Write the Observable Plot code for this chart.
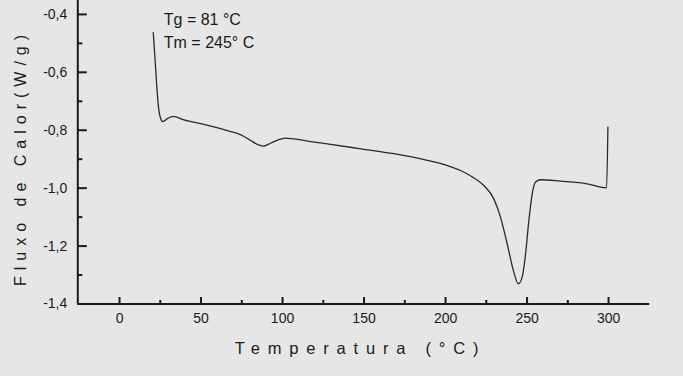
<!DOCTYPE html>
<html>
<head>
<meta charset="utf-8">
<script src="https://cdn.jsdelivr.net/npm/d3@7"></script>
<script src="https://cdn.jsdelivr.net/npm/@observablehq/plot@0.6"></script>
<style>
  html, body { margin: 0; padding: 0; background: #e6e6e6; }
  #chart { width: 683px; height: 376px; overflow: hidden; }
</style>
</head>
<body>
<div id="chart"></div>
<script>
// ---- data ----
const temperature = [20.7, 22.1, 23.5, 24.7, 26.6, 29.3, 32.9, 39.5, 51.7, 66.1, 74.2, 80.4, 84.5, 88.1, 92.6, 97.0, 101.8, 106.9, 117.2, 127.4, 147.9, 168.3, 188.8, 200.0, 209.2, 216.0, 223.5, 229.6, 233.7, 237.8, 241.9, 244.6, 247.0, 249.1, 251.1, 253.2, 255.2, 258.3, 270.6, 286.9, 298.8, 299.6];
const heatFlow    = [-0.463, -0.582, -0.697, -0.749, -0.770, -0.760, -0.752, -0.764, -0.780, -0.801, -0.815, -0.835, -0.849, -0.855, -0.845, -0.834, -0.827, -0.830, -0.839, -0.847, -0.864, -0.881, -0.904, -0.920, -0.939, -0.960, -0.991, -1.037, -1.100, -1.192, -1.290, -1.330, -1.307, -1.227, -1.112, -1.019, -0.979, -0.971, -0.976, -0.985, -0.999, -0.789];

const xTicks = [0, 50, 100, 150, 200, 250, 300];
const xMinorTicks = [25, 75, 125, 175, 225, 275];
const yTicks = [-1.4, -1.2, -1.0, -0.8, -0.6, -0.4];
const yMinorTicks = [-1.3, -1.1, -0.9, -0.7, -0.5];
const xDomain = [-25.6, 325.3];
const yDomain = [-1.4, -0.352];

const annotations = ["Tg = 81 °C", "Tm = 245° C"];
const xTitle = "Temperatura (°C)";
const yTitle = "Fluxo de Calor(W/g)";

const curve = temperature.map((t, i) => ({t, v: heatFlow[i]}));

// ---- layout ----
const W = 683, H = 376;
const mL = 77.3, mR = 33.7, mT = 0, mB = 72.5;
const innerW = W - mL - mR, innerH = H - mT - mB;
const ink = "#1a1a1a";
const fmt = d => d.toFixed(1).replace(".", ",");

const chart = Plot.plot({
  width: W,
  height: H,
  marginLeft: mL,
  marginRight: mR,
  marginTop: mT,
  marginBottom: mB,
  style: {background: "#e6e6e6", color: ink, fontFamily: "'Liberation Sans', Arial, sans-serif", fontSize: "14px", overflow: "visible"},
  x: {domain: xDomain},
  y: {domain: yDomain},
  marks: [
    // tick labels
    Plot.axisX({ticks: xTicks, tickSize: 0, tickPadding: 9, fontSize: 14, label: null, tickFormat: d => String(d)}),
    Plot.axisY({ticks: yTicks, tickSize: 0, tickPadding: 10.5, fontSize: 14, label: null, tickFormat: fmt}),
    // inward ticks
    Plot.ruleX(xTicks, {x: d => d, insetTop: innerH - 6.5, stroke: ink, strokeWidth: 2}),
    Plot.ruleX(xMinorTicks, {x: d => d, insetTop: innerH - 3.5, stroke: ink, strokeWidth: 2}),
    Plot.ruleY(yTicks, {y: d => d, insetRight: innerW - 9.5, stroke: ink, strokeWidth: 2}),
    Plot.ruleY(yMinorTicks, {y: d => d, insetRight: innerW - 5, stroke: ink, strokeWidth: 2}),
    // axis lines
    Plot.ruleY([yDomain[0]], {stroke: ink, strokeWidth: 2}),
    Plot.ruleX([xDomain[0]], {stroke: ink, strokeWidth: 2}),
    // curve
    Plot.line(curve, {x: "t", y: "v", curve: "monotone-x", stroke: "#2a2a2a", strokeWidth: 1.3}),
    // annotations
    Plot.text([annotations[0]], {frameAnchor: "top-left", dx: 86, dy: 19, textAnchor: "start", lineAnchor: "middle", fontSize: 16, fill: ink}),
    Plot.text([annotations[1]], {frameAnchor: "top-left", dx: 86, dy: 42.7, textAnchor: "start", lineAnchor: "middle", fontSize: 16, fill: ink}),
    // axis titles
    Plot.text([xTitle], {frameAnchor: "bottom", dx: -3.3, dy: 44.5, textAnchor: "middle", lineAnchor: "middle", fontSize: 16.5, fill: ink}),
    Plot.text([yTitle], {frameAnchor: "left", dx: 20 - mL, dy: 157 - innerH / 2, rotate: -90, textAnchor: "middle", lineAnchor: "middle", fontSize: 16, fill: ink})
  ]
});

d3.select(chart).selectAll("text").each(function() {
  const s = this.textContent;
  if (s === xTitle) this.style.letterSpacing = "7.8px";
  if (s === yTitle) this.style.letterSpacing = "6px";
});

document.getElementById("chart").appendChild(chart);
</script>
</body>
</html>
